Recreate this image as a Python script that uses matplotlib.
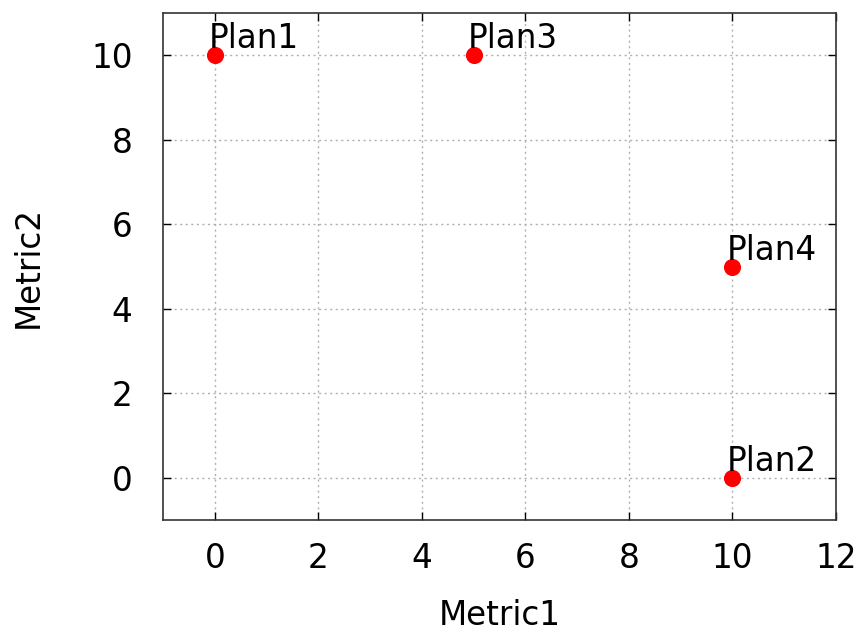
import matplotlib
matplotlib.use("Agg")
import matplotlib.pyplot as plt
from matplotlib.transforms import offset_copy

plans = ["Plan1", "Plan2", "Plan3", "Plan4"]
metric1 = [0, 10, 5, 10]
metric2 = [10, 0, 10, 5]

xticks = [0, 2, 4, 6, 8, 10, 12]
yticks = [0, 2, 4, 6, 8, 10]

FS = 23.5

fig = plt.figure(figsize=(8.61, 6.33), dpi=100)
ax = fig.add_axes([163 / 861, 1 - 520 / 633, (836 - 163) / 861, (520 - 13) / 633])

ax.plot(metric1, metric2, "o", color="#ff0000", markersize=11.3, zorder=3)

# labels sit just above and slightly left of each point
lab_tr = offset_copy(ax.transData, fig=fig, x=-6, y=7, units="dots")
for name, x, y in zip(plans, metric1, metric2):
    ax.text(x, y, name, transform=lab_tr, ha="left", va="baseline",
            fontsize=FS, color="black", zorder=4)

ax.set_xlim(-1, 12)
ax.set_ylim(-1, 11)
ax.set_xticks(xticks)
ax.set_yticks(yticks)
ax.tick_params(direction="in", length=6, width=1, top=True, right=True,
               labelsize=FS, colors="black")
ax.tick_params(axis="x", pad=16)
ax.tick_params(axis="y", pad=22)

ax.grid(True, linestyle=(0, (1.5, 2.5)), color="#b0b0b0", linewidth=1)
ax.set_axisbelow(True)
for sp in ax.spines.values():
    sp.set_linewidth(1.2)
    sp.set_color("#333333")

ax.set_xlabel("Metric1", fontsize=FS, labelpad=17)
ax.set_ylabel("Metric2", fontsize=FS, labelpad=33)

fig.savefig("out.png", dpi=100)
